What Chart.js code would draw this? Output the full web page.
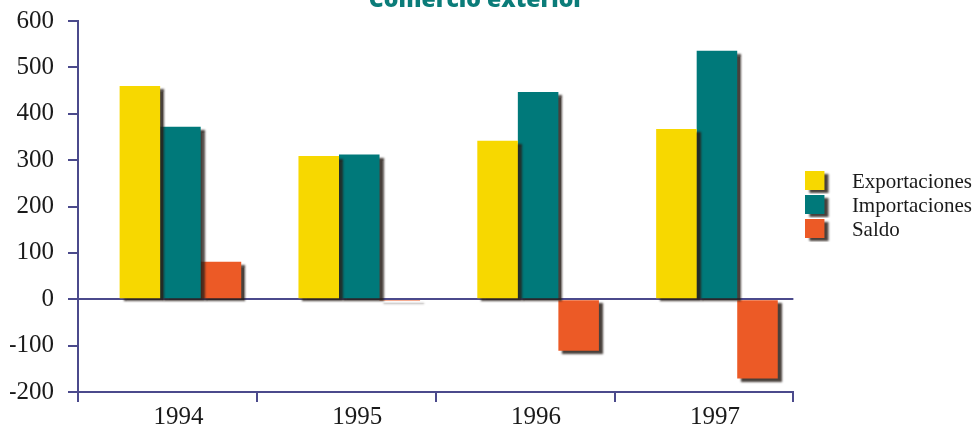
<!DOCTYPE html>
<html>
<head>
<meta charset="utf-8">
<script src="https://cdn.jsdelivr.net/npm/chart.js@4"></script>
<style>
  html, body { margin: 0; padding: 0; background: #fff; }
  #wrap { width: 975px; height: 436px; }
</style>
</head>
<body>
<div id="wrap"><canvas id="CHART"></canvas></div>
<script>
// data
const years = ["1994", "1995", "1996", "1997"];
const exportaciones = [460, 309, 342, 367];
const importaciones = [372, 312, 447, 536];
const saldo = [81, -3, -111, -171];

const AXIS = "#4b4a8c";
const YELLOW = "#f7d800";
const TEAL = "#00797a";
const ORANGE = "#ec5a26";

// legend swatch: square with drop shadow, extra width keeps the text away from the box
function swatch(color) {
    const c = document.createElement("canvas");
    c.width = 36;
    c.height = 24;
    const g = c.getContext("2d");
    g.shadowColor = "rgba(40,30,25,0.85)";
    g.shadowOffsetX = 4;
    g.shadowOffsetY = 3;
    g.shadowBlur = 2;
    g.fillStyle = color;
    g.fillRect(0, 1, 19, 19);
    return c;
}

// shift bars a bit right and give them a drop shadow
const barShadow = {
    id: "barShadow",
    beforeDatasetsDraw(chart) {
        const ctx = chart.ctx;
        ctx.save();
        ctx.translate(13, 0);
        ctx.shadowColor = "rgba(40,30,25,0.85)";
        ctx.shadowOffsetX = 4;
        ctx.shadowOffsetY = 3;
        ctx.shadowBlur = 2;
    },
    afterDatasetsDraw(chart) {
        chart.ctx.restore();
    }
};

// nudge the title left and the legend up/right after layout
const nudge = {
    id: "nudge",
    afterLayout(chart) {
        const t = chart.titleBlock;
        if (t) { t.left -= 15; t.right -= 15; }
        const l = chart.legend;
        if (l) { l.top -= 10; l.bottom -= 10; l.left += 9; l.right += 9; }
    }
};

const serif = "'Liberation Serif', 'DejaVu Serif', serif";

const chart = new Chart(document.getElementById("CHART"), {
    type: "bar",
    data: {
        labels: years,
        datasets: [{
            label: "Exportaciones",
            data: exportaciones,
            backgroundColor: YELLOW,
            pointStyle: swatch(YELLOW),
        }, {
            label: "Importaciones",
            data: importaciones,
            backgroundColor: TEAL,
            pointStyle: swatch(TEAL),
        }, {
            label: "Saldo",
            data: saldo,
            backgroundColor: ORANGE,
            pointStyle: swatch(ORANGE),
        }],
    },
    options: {
        responsive: true,
        maintainAspectRatio: false,
        animation: false,
        categoryPercentage: 0.68,
        barPercentage: 1.0,
        layout: {
            padding: { left: 10, right: 2, top: 0, bottom: 4 }
        },
        plugins: {
            tooltip: { enabled: false },
            title: {
                display: true,
                text: "Comercio exterior",
                color: "#0b7c79",
                font: { family: "'Open Sans', sans-serif", size: 23, weight: 800 },
                padding: { top: -13, bottom: 6.4 },
            },
            legend: {
                position: "right",
                labels: {
                    usePointStyle: true,
                    pointStyleWidth: 36,
                    boxHeight: 21,
                    padding: 3,
                    color: "#1a1a1a",
                    font: { family: serif, size: 21 },
                }
            }
        },
        scales: {
            x: {
                grid: {
                    display: true,
                    drawOnChartArea: false,
                    tickLength: 10,
                    tickColor: AXIS,
                    lineWidth: 2,
                },
                border: { display: true, color: AXIS, width: 2 },
                ticks: {
                    color: "#1a1a1a",
                    font: { family: serif, size: 25 },
                    padding: 0,
                    labelOffset: 11,
                }
            },
            y: {
                min: -200,
                max: 600,
                afterFit(scale) {
                    scale.width = 68;
                    scale.paddingTop = 0;
                    scale.paddingBottom = 0;
                },
                grid: {
                    color: (c) => c.tick && c.tick.value === 0 ? AXIS : "rgba(0,0,0,0)",
                    tickColor: AXIS,
                    tickLength: 10,
                    lineWidth: 2,
                },
                border: { display: true, color: AXIS, width: 2 },
                ticks: {
                    stepSize: 100,
                    color: "#1a1a1a",
                    font: { family: serif, size: 25 },
                    padding: 14,
                }
            }
        }
    },
    plugins: [barShadow, nudge]
});
</script>
</body>
</html>
